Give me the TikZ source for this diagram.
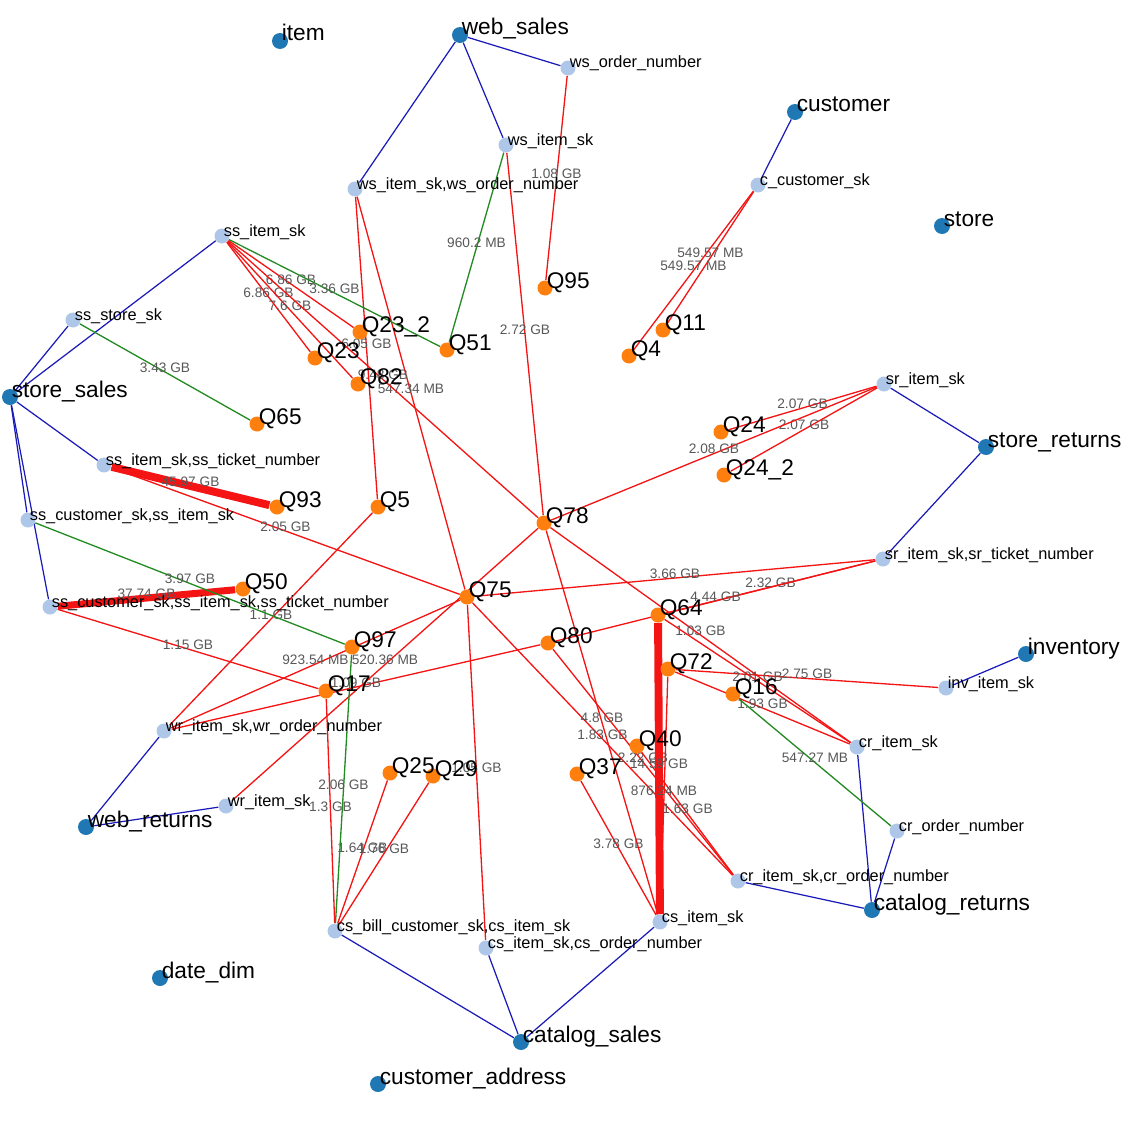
\documentclass[tikz,border=0pt]{standalone}
\usepackage{fontspec}
\setmainfont{Liberation Sans}
\usepackage{tikz, xcolor}

\definecolor{tblblue}{HTML}{1F77B4}
\definecolor{colblue}{HTML}{AEC7E8}
\definecolor{qorange}{HTML}{FF7F0E}
\definecolor{linkblue}{HTML}{1A1AB8}
\definecolor{linkred}{HTML}{F41414}
\definecolor{linkgreen}{HTML}{228B22}
\definecolor{sizegray}{HTML}{585858}

\pgfdeclarelayer{background}
\pgfdeclarelayer{foreground}
\pgfsetlayers{background,main,foreground}

\tikzset{
    dot/.style={circle, inner sep=0pt, minimum size=0.30cm},
    tablenode/.style={dot, fill=tblblue, minimum size=0.32cm},
    colnode/.style={dot, fill=colblue},
    querynode/.style={dot, fill=qorange},
    bigtext/.style={anchor=base west, inner sep=0pt, xshift=0.03cm, font=\fontsize{12.9}{14}\selectfont},
    smalltext/.style={anchor=base west, inner sep=0pt, xshift=0.03cm, font=\fontsize{9.3}{11}\selectfont},
    elabel/.style={anchor=base, inner sep=0pt, text=sizegray, font=\fontsize{7.8}{9}\selectfont},
    bluelink/.style={draw=linkblue, line width=0.7pt},
    redlink/.style={draw=linkred, line width=0.75pt},
    greenlink/.style={draw=linkgreen, line width=0.75pt},
    heavy/.style={line width=4.5pt},
}

\begin{document}
\begin{tikzpicture}[x=0.02cm, y=-0.02cm]
    \useasboundingbox (0,0) rectangle (1141,1132);

    % tables
    \node (item) at (280,41) [tablenode] {};
    \node (websales) at (460,35) [tablenode] {};
    \node (customer) at (795,112) [tablenode] {};
    \node (store) at (942,226) [tablenode] {};
    \node (storesales) at (10,397) [tablenode] {};
    \node (storereturns) at (986,447) [tablenode] {};
    \node (inventory) at (1026,654) [tablenode] {};
    \node (catreturns) at (872,910) [tablenode] {};
    \node (webreturns) at (86,827) [tablenode] {};
    \node (datedim) at (160,978) [tablenode] {};
    \node (catsales) at (521,1042) [tablenode] {};
    \node (custaddr) at (378,1084) [tablenode] {};

    % columns
    \node (wsorder) at (568,68) [colnode] {};
    \node (wsitem) at (506,145) [colnode] {};
    \node (wsitemorder) at (355,189) [colnode] {};
    \node (ccust) at (758,185) [colnode] {};
    \node (ssitem) at (222,236) [colnode] {};
    \node (ssstore) at (73,320) [colnode] {};
    \node (sritem) at (884,384) [colnode] {};
    \node (ssitemtick) at (104,465) [colnode] {};
    \node (sscustitem) at (28,520) [colnode] {};
    \node (srtick) at (883,559) [colnode] {};
    \node (sscusttick) at (50,607) [colnode] {};
    \node (invitem) at (946,688) [colnode] {};
    \node (wrorder) at (164,731) [colnode] {};
    \node (critem) at (857,747) [colnode] {};
    \node (writem) at (226,806) [colnode] {};
    \node (crorder) at (897,831) [colnode] {};
    \node (critemorder) at (738,881) [colnode] {};
    \node (csitem) at (660,922) [colnode] {};
    \node (csbill) at (335,931) [colnode] {};
    \node (csorder) at (486,948) [colnode] {};

    % queries
    \node (q95) at (545,288) [querynode] {};
    \node (q11) at (663,330) [querynode] {};
    \node (q4) at (629,356) [querynode] {};
    \node (q23b) at (360,332) [querynode] {};
    \node (q51) at (447,350) [querynode] {};
    \node (q23) at (315,358) [querynode] {};
    \node (q82) at (358,384) [querynode] {};
    \node (q65) at (257,424) [querynode] {};
    \node (q24) at (721,432) [querynode] {};
    \node (q24b) at (724,475) [querynode] {};
    \node (q93) at (277,507) [querynode] {};
    \node (q5) at (378,507) [querynode] {};
    \node (q78) at (544,523) [querynode] {};
    \node (q50) at (243,589) [querynode] {};
    \node (q75) at (467,597) [querynode] {};
    \node (q64) at (658,615) [querynode] {};
    \node (q97) at (352,647) [querynode] {};
    \node (q80) at (548,643) [querynode] {};
    \node (q72) at (668,669) [querynode] {};
    \node (q16) at (733,694) [querynode] {};
    \node (q17) at (326,691) [querynode] {};
    \node (q40) at (637,746) [querynode] {};
    \node (q25) at (390,773) [querynode] {};
    \node (q29) at (433,776) [querynode] {};
    \node (q37) at (577,774) [querynode] {};

    \begin{pgfonlayer}{foreground}
    % names, written from the centre of each dot
    \node (itemtxt) at (item.center) [bigtext] {item};
    \node (websalestxt) at (websales.center) [bigtext] {web\_sales};
    \node (customertxt) at (customer.center) [bigtext] {customer};
    \node (storetxt) at (store.center) [bigtext] {store};
    \node (storesalestxt) at (storesales.center) [bigtext] {store\_sales};
    \node (storereturnstxt) at (storereturns.center) [bigtext] {store\_returns};
    \node (inventorytxt) at (inventory.center) [bigtext] {inventory};
    \node (catreturnstxt) at (catreturns.center) [bigtext] {catalog\_returns};
    \node (webreturnstxt) at (webreturns.center) [bigtext] {web\_returns};
    \node (datedimtxt) at (datedim.center) [bigtext] {date\_dim};
    \node (catsalestxt) at (catsales.center) [bigtext] {catalog\_sales};
    \node (custaddrtxt) at (custaddr.center) [bigtext] {customer\_address};

    \node (wsordertxt) at (wsorder.center) [smalltext] {ws\_order\_number};
    \node (wsitemtxt) at (wsitem.center) [smalltext] {ws\_item\_sk};
    \node (wsitemordertxt) at (wsitemorder.center) [smalltext] {ws\_item\_sk,ws\_order\_number};
    \node (ccusttxt) at (ccust.center) [smalltext] {c\_customer\_sk};
    \node (ssitemtxt) at (ssitem.center) [smalltext] {ss\_item\_sk};
    \node (ssstoretxt) at (ssstore.center) [smalltext] {ss\_store\_sk};
    \node (sritemtxt) at (sritem.center) [smalltext] {sr\_item\_sk};
    \node (ssitemticktxt) at (ssitemtick.center) [smalltext] {ss\_item\_sk,ss\_ticket\_number};
    \node (sscustitemtxt) at (sscustitem.center) [smalltext] {ss\_customer\_sk,ss\_item\_sk};
    \node (srticktxt) at (srtick.center) [smalltext] {sr\_item\_sk,sr\_ticket\_number};
    \node (sscustticktxt) at (sscusttick.center) [smalltext] {ss\_customer\_sk,ss\_item\_sk,ss\_ticket\_number};
    \node (invitemtxt) at (invitem.center) [smalltext] {inv\_item\_sk};
    \node (wrordertxt) at (wrorder.center) [smalltext] {wr\_item\_sk,wr\_order\_number};
    \node (critemtxt) at (critem.center) [smalltext] {cr\_item\_sk};
    \node (writemtxt) at (writem.center) [smalltext] {wr\_item\_sk};
    \node (crordertxt) at (crorder.center) [smalltext] {cr\_order\_number};
    \node (critemordertxt) at (critemorder.center) [smalltext] {cr\_item\_sk,cr\_order\_number};
    \node (csitemtxt) at (csitem.center) [smalltext] {cs\_item\_sk};
    \node (csbilltxt) at (csbill.center) [smalltext] {cs\_bill\_customer\_sk,cs\_item\_sk};
    \node (csordertxt) at (csorder.center) [smalltext] {cs\_item\_sk,cs\_order\_number};

    \node (q95txt) at (q95.center) [bigtext] {Q95};
    \node (q11txt) at (q11.center) [bigtext] {Q11};
    \node (q4txt) at (q4.center) [bigtext] {Q4};
    \node (q23btxt) at (q23b.center) [bigtext] {Q23\_2};
    \node (q51txt) at (q51.center) [bigtext] {Q51};
    \node (q23txt) at (q23.center) [bigtext] {Q23};
    \node (q82txt) at (q82.center) [bigtext] {Q82};
    \node (q65txt) at (q65.center) [bigtext] {Q65};
    \node (q24txt) at (q24.center) [bigtext] {Q24};
    \node (q24btxt) at (q24b.center) [bigtext] {Q24\_2};
    \node (q93txt) at (q93.center) [bigtext] {Q93};
    \node (q5txt) at (q5.center) [bigtext] {Q5};
    \node (q78txt) at (q78.center) [bigtext] {Q78};
    \node (q50txt) at (q50.center) [bigtext] {Q50};
    \node (q75txt) at (q75.center) [bigtext] {Q75};
    \node (q64txt) at (q64.center) [bigtext] {Q64};
    \node (q97txt) at (q97.center) [bigtext] {Q97};
    \node (q80txt) at (q80.center) [bigtext] {Q80};
    \node (q72txt) at (q72.center) [bigtext] {Q72};
    \node (q16txt) at (q16.center) [bigtext] {Q16};
    \node (q17txt) at (q17.center) [bigtext] {Q17};
    \node (q40txt) at (q40.center) [bigtext] {Q40};
    \node (q25txt) at (q25.center) [bigtext] {Q25};
    \node (q29txt) at (q29.center) [bigtext] {Q29};
    \node (q37txt) at (q37.center) [bigtext] {Q37};
    \end{pgfonlayer}

    \begin{pgfonlayer}{background}
    % table to column
    \draw [bluelink] (websales) -- (wsorder);
    \draw [bluelink] (websales) -- (wsitem);
    \draw [bluelink] (websales) -- (wsitemorder);
    \draw [bluelink] (customer) -- (ccust);
    \draw [bluelink] (storesales) -- (ssitem);
    \draw [bluelink] (storesales) -- (ssstore);
    \draw [bluelink] (storesales) -- (ssitemtick);
    \draw [bluelink] (storesales) -- (sscustitem);
    \draw [bluelink] (storesales) -- (sscusttick);
    \draw [bluelink] (storereturns) -- (sritem);
    \draw [bluelink] (storereturns) -- (srtick);
    \draw [bluelink] (inventory) -- (invitem);
    \draw [bluelink] (webreturns) -- (wrorder);
    \draw [bluelink] (webreturns) -- (writem);
    \draw [bluelink] (catreturns) -- (critem);
    \draw [bluelink] (catreturns) -- (crorder);
    \draw [bluelink] (catreturns) -- (critemorder);
    \draw [bluelink] (catsales) -- (csitem);
    \draw [bluelink] (catsales) -- (csbill);
    \draw [bluelink] (catsales) -- (csorder);

    % column to query
    \draw [redlink] (wsorder) -- node [elabel] {1.08 GB} (q95);
    \draw [redlink] (wsitem) -- node [elabel] {2.72 GB} (q78);
    \draw [redlink] (wsitemorder) -- node [elabel] {6.05 GB} (q5);
    \draw [redlink] (wsitemorder) -- node [elabel] {547.34 MB} (q75);
    \draw [redlink] (ccust) -- node [elabel] {549.57 MB} (q11);
    \draw [redlink] (ccust) -- node [elabel] {549.57 MB} (q4);
    \draw [redlink] (ssitem) -- node [elabel] {6.86 GB} (q23b);
    \draw [redlink] (ssitem) -- node [elabel] {6.86 GB} (q23);
    \draw [redlink] (ssitem) -- node [elabel] {7.6 GB} (q82);
    \draw [redlink] (ssitem) -- node [elabel] {9.48 GB} (q78);
    \draw [redlink] (sritem) -- node [elabel] {2.07 GB} (q24);
    \draw [redlink] (sritem) -- node [elabel] {2.07 GB} (q24b);
    \draw [redlink] (sritem) -- node [elabel] {2.08 GB} (q78);
    \draw [redlink, heavy] (ssitemtick) -- node [elabel] {45.97 GB} (q93);
    \draw [redlink] (ssitemtick) -- node [elabel] {2.05 GB} (q75);
    \draw [redlink, line width=4pt] (sscusttick) -- node [elabel] {37.74 GB} (q50);
    \draw [redlink] (sscusttick) -- node [elabel] {1.15 GB} (q17);
    \draw [redlink] (srtick) -- node [elabel] {3.66 GB} (q75);
    \draw [redlink] (srtick) -- node [elabel] {2.32 GB} (q64);
    \draw [redlink] (srtick) -- node [elabel] {4.44 GB} (q80);
    \draw [redlink] (invitem) -- node [elabel] {2.75 GB} (q72);
    \draw [redlink] (wrorder) -- node [elabel] {1.1 GB} (q5);
    \draw [redlink] (wrorder) -- node [elabel] {923.54 MB} (q75);
    \draw [redlink] (wrorder) -- node [elabel] {1.09 GB} (q80);
    \draw [redlink] (writem) -- node [elabel] {520.36 MB} (q78);
    \draw [redlink] (critem) -- node [elabel] {1.03 GB} (q78);
    \draw [redlink] (critem) -- node [elabel] {2.01 GB} (q64);
    \draw [redlink] (critem) -- node [elabel] {1.93 GB} (q72);
    \draw [redlink] (critemorder) -- node [elabel] {1.83 GB} (q75);
    \draw [redlink] (critemorder) -- node [elabel] {2.22 GB} (q80);
    \draw [redlink] (critemorder) -- node [elabel] {1.63 GB} (q40);
    \draw [redlink, heavy] (csitem) -- node [elabel] {14.59 GB} (q64);
    \draw [redlink] (csitem) -- node [elabel] {3.78 GB} (q37);
    \draw [redlink] (csitem) -- node [elabel] {4.8 GB} (q78);
    \draw [redlink] (csitem) -- node [elabel] {876.24 MB} (q72);
    \draw [redlink] (csbill) -- node [elabel] {1.3 GB} (q17);
    \draw [redlink] (csbill) -- node [elabel] {1.64 GB} (q25);
    \draw [redlink] (csbill) -- node [elabel] {1.76 GB} (q29);
    \draw [redlink] (csorder) -- node [elabel] {1.05 GB} (q75);
    \draw [greenlink] (wsitem) -- node [elabel] {960.2 MB} (q51);
    \draw [greenlink] (ssitem) -- node [elabel] {3.36 GB} (q51);
    \draw [greenlink] (ssstore) -- node [elabel] {3.43 GB} (q65);
    \draw [greenlink] (sscustitem) -- node [elabel] {3.97 GB} (q97);
    \draw [greenlink] (csbill) -- node [elabel] {2.06 GB} (q97);
    \draw [greenlink] (crorder) -- node [elabel] {547.27 MB} (q16);
    \end{pgfonlayer}
\end{tikzpicture}
\end{document}
